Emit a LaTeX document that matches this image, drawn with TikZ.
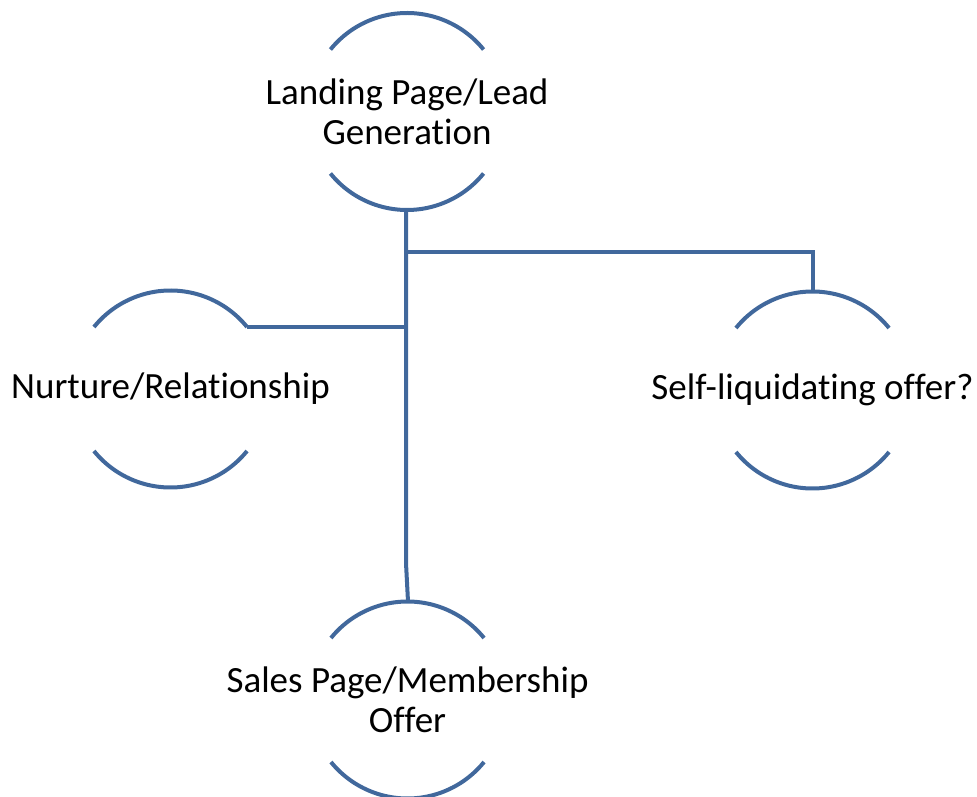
\documentclass[tikz,border=0pt]{standalone}
\usepackage{fontspec}
\setmainfont{Carlito}[Ligatures=NoCommon]
\usepackage{tikz}
\usetikzlibrary{calc}
\definecolor{ringblue}{RGB}{65,104,156}
\tikzset{
  ringS/.style ={draw=ringblue, line width=4pt},
  linkS/.style ={draw=ringblue, line width=4pt, line join=miter},
  stepbox/.style={align=center, inner sep=0pt, font=\fontsize{37}{40}\selectfont},
}
\begin{document}
\begin{tikzpicture}[x=1pt,y=1pt]
  \useasboundingbox (0,0) rectangle (977,796);
  \node[stepbox] (landing) at (407,684.5) {Landing Page/Lead\\Generation};
  \node[stepbox] (nurture) at (170.5,407) {Nurture/Relationship};
  \node[stepbox] (selfliq) at (812.5,406) {Self-liquidating offer?};
  \node[stepbox] (sales)   at (407.5,96)  {Sales Page/Membership\\Offer};
  \foreach \n in {landing,nurture,selfliq,sales}{
    \draw[ringS] ($(\n.center)+(39:98.5)$) arc[start angle=39, end angle=141, radius=98.5];
    \draw[ringS] ($(\n.center)+(219:98.5)$) arc[start angle=219, end angle=321, radius=98.5];
  }
  \coordinate (landingB) at ($(landing.center)+(-1,-98.5)$);
  \coordinate (salesT)   at ($(sales.center)+(0.5,98.5)$);
  \coordinate (selfliqT) at ($(selfliq.center)+(0.5,98.5)$);
  \coordinate (nurtureR) at ($(nurture.center)+(39:98.5)$);
  \draw[linkS] (landingB) -- ++(0,-353) -- (salesT);
  \draw[linkS] ([yshift=-42]landingB) -| (selfliqT);
  \draw[linkS] (nurtureR) -- (nurtureR -| landingB);
\end{tikzpicture}
\end{document}
